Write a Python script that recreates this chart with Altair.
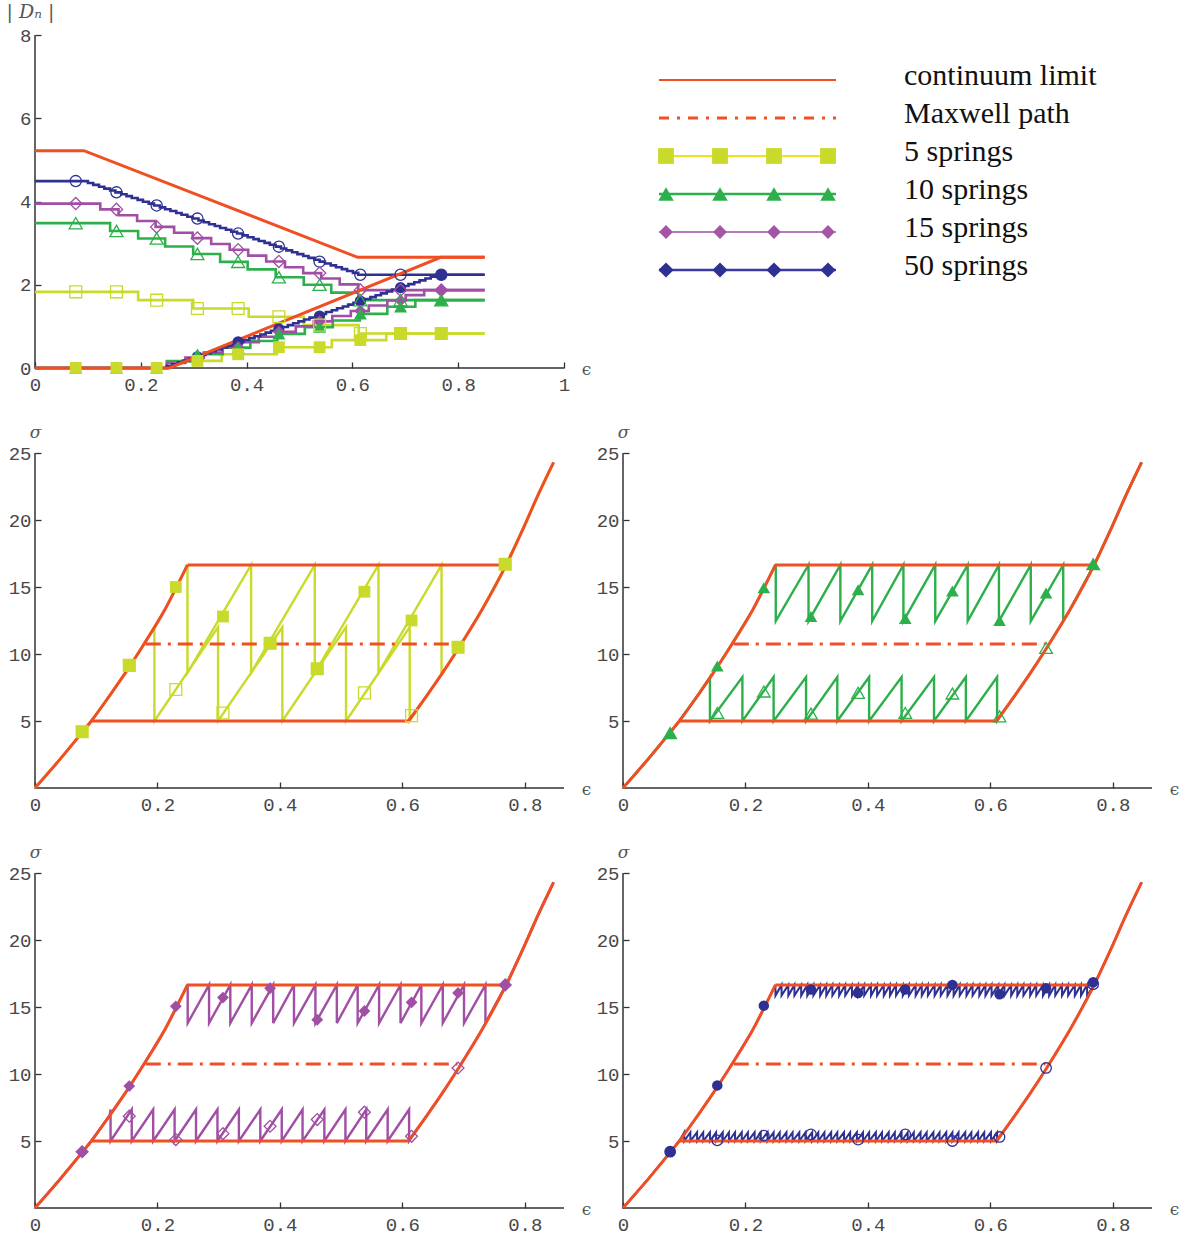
import altair as alt
import pandas as pd

# ---------------- values ----------------
# continuum limit, stress-strain (sigma vs epsilon)
branch1_eps = [0.0, 0.04, 0.077, 0.092, 0.122, 0.147, 0.174, 0.212, 0.249]
branch1_sig = [0.0, 2.1, 4.15, 5.0, 6.9, 8.55, 10.45, 13.3, 16.65]
branch2_eps = [0.6098, 0.64, 0.665, 0.692, 0.73, 0.7696, 0.7957, 0.823, 0.847]
branch2_sig = [5.0, 6.9, 8.55, 10.45, 13.3, 16.65, 19.2, 22.0, 24.3]
plateau_hi_eps = [0.249, 0.7696]
plateau_lo_eps = [0.092, 0.6098]
sig_high = 16.65
sig_low = 5.0
maxwell_eps = [0.181, 0.69]
maxwell_sig = [10.75, 10.75]

# continuum limit of |D_N|
dn_cont_upper_eps = [0.0, 0.0925, 0.61, 0.85]
dn_cont_upper_val = [5.22, 5.22, 2.66, 2.66]
dn_cont_lower_eps = [0.0, 0.254, 0.767, 0.85]
dn_cont_lower_val = [0.0, 0.0, 2.66, 2.66]
dn_end_eps = 0.85

marker_eps = [0.077, 0.154, 0.230, 0.307, 0.384, 0.461, 0.538, 0.615, 0.691, 0.768]

# 5 springs
jumps_unload_5 = [0.195, 0.299, 0.404, 0.508, 0.612]
jumps_load_5 = [0.249, 0.353, 0.457, 0.561, 0.664]
tooth_unload_5 = 12.0
tooth_load_5 = 8.6
sig_load_5 = [4.2, 9.15, 15.0, 12.8, 10.8, 8.9, 14.65, 12.5, 10.5, 16.7]
sig_unload_5 = [4.2, 9.15, 7.35, 5.6, 10.8, 8.9, 7.1, 5.4, 10.5, 16.7]
dn_unload_5 = [1.83, 1.63, 1.43, 1.23, 1.03, 0.83]
dn_load_5 = [0.0, 0.17, 0.33, 0.50, 0.67, 0.83]
dnm_load_5 = [0, 0, 0, 0.17, 0.33, 0.5, 0.5, 0.67, 0.83, 0.83]
dnm_unload_5 = [1.83, 1.83, 1.63, 1.43, 1.43, 1.23, 1.03, 0.83, 0.83, 0.83]

# 10 springs
jumps_unload_10 = [0.142, 0.195, 0.246, 0.299, 0.350, 0.402, 0.455, 0.508, 0.560, 0.611]
jumps_load_10 = [0.2495, 0.303, 0.355, 0.407, 0.458, 0.510, 0.563, 0.614, 0.666, 0.719]
tooth_unload_10 = 8.28
tooth_load_10 = 12.45
sig_load_10 = [4.1, 9.1, 14.95, 12.8, 14.8, 12.65, 14.7, 12.5, 14.55, 16.7]
sig_unload_10 = [4.1, 5.6, 7.2, 5.55, 7.1, 5.6, 7.05, 5.35, 10.45, 16.7]
dn_unload_10 = [3.48, 3.29, 3.11, 2.92, 2.74, 2.55, 2.37, 2.18, 2.00, 1.81, 1.63]
dn_load_10 = [0.0, 0.16, 0.33, 0.49, 0.65, 0.82, 0.98, 1.14, 1.30, 1.47, 1.63]
dnm_load_10 = [0, 0, 0, 0.33, 0.49, 0.82, 0.98, 1.30, 1.47, 1.63]
dnm_unload_10 = [3.48, 3.29, 3.11, 2.74, 2.55, 2.18, 2.00, 1.63, 1.63, 1.63]

# 15 springs
jumps_unload_15 = [0.1234, 0.158, 0.193, 0.228, 0.263, 0.298, 0.333, 0.368, 0.403,
                   0.437, 0.4726, 0.507, 0.541, 0.576, 0.611]
jumps_load_15 = [0.2494, 0.2843, 0.319, 0.354, 0.389, 0.423, 0.458, 0.493, 0.527,
                 0.562, 0.597, 0.631, 0.666, 0.7007, 0.7357]
tooth_unload_15 = 7.35
tooth_load_15 = 13.8
sig_load_15 = [4.2, 9.1, 15.05, 15.7, 16.4, 14.05, 14.7, 15.35, 16.05, 16.65]
sig_unload_15 = [4.2, 6.85, 5.1, 5.55, 6.1, 6.6, 7.15, 5.35, 10.45, 16.65]
dn_unload_15 = [3.95, 3.81, 3.67, 3.53, 3.39, 3.25, 3.12, 2.98, 2.84, 2.70, 2.56, 2.42,
                2.28, 2.15, 2.01, 1.87]
dn_load_15 = [0.0, 0.12, 0.25, 0.37, 0.50, 0.62, 0.75, 0.87, 1.00, 1.12, 1.25, 1.37,
              1.50, 1.62, 1.75, 1.87]
dnm_load_15 = [0, 0, 0, 0.25, 0.5, 0.87, 1.12, 1.37, 1.62, 1.87]
dnm_unload_15 = [3.95, 3.81, 3.39, 3.12, 2.84, 2.56, 2.28, 1.87, 1.87, 1.87]

# 50 springs
jumps_unload_50 = [0.100, 0.110, 0.121, 0.131, 0.142, 0.152, 0.163, 0.173, 0.183, 0.194,
                   0.204, 0.215, 0.225, 0.236, 0.246, 0.256, 0.267, 0.277, 0.288, 0.298,
                   0.309, 0.319, 0.329, 0.340, 0.350, 0.361, 0.371, 0.382, 0.392, 0.402,
                   0.413, 0.423, 0.434, 0.444, 0.455, 0.465, 0.475, 0.486, 0.496, 0.507,
                   0.517, 0.528, 0.538, 0.548, 0.559, 0.569, 0.580, 0.590, 0.601, 0.611]
jumps_load_50 = [0.249, 0.259, 0.270, 0.280, 0.291, 0.301, 0.311, 0.322, 0.332, 0.342,
                 0.353, 0.363, 0.374, 0.384, 0.394, 0.405, 0.415, 0.426, 0.436, 0.446,
                 0.457, 0.467, 0.478, 0.488, 0.498, 0.509, 0.519, 0.530, 0.540, 0.550,
                 0.561, 0.571, 0.582, 0.592, 0.602, 0.613, 0.623, 0.634, 0.644, 0.654,
                 0.665, 0.675, 0.686, 0.696, 0.706, 0.717, 0.727, 0.738, 0.748, 0.758]
tooth_unload_50 = 5.65
tooth_load_50 = 15.85
sig_load_50 = [4.2, 9.15, 15.1, 16.3, 16.05, 16.3, 16.65, 15.95, 16.4, 16.85]
sig_unload_50 = [4.2, 5.05, 5.4, 5.5, 5.1, 5.5, 5.0, 5.3, 10.45, 16.7]
dn_unload_50 = [4.49, 4.445, 4.40, 4.355, 4.31, 4.265, 4.22, 4.175, 4.13, 4.085, 4.04,
                3.995, 3.95, 3.905, 3.86, 3.815, 3.77, 3.725, 3.68, 3.635, 3.59, 3.545,
                3.50, 3.455, 3.41, 3.365, 3.32, 3.275, 3.23, 3.185, 3.14, 3.095, 3.05,
                3.005, 2.96, 2.915, 2.87, 2.825, 2.78, 2.735, 2.69, 2.645, 2.60, 2.555,
                2.51, 2.465, 2.42, 2.375, 2.33, 2.285, 2.24]
dn_load_50 = [0.0, 0.045, 0.09, 0.134, 0.179, 0.224, 0.269, 0.314, 0.358, 0.403, 0.448,
              0.493, 0.538, 0.582, 0.627, 0.672, 0.717, 0.762, 0.806, 0.851, 0.896,
              0.941, 0.986, 1.030, 1.075, 1.12, 1.165, 1.21, 1.254, 1.299, 1.344,
              1.389, 1.434, 1.478, 1.523, 1.568, 1.613, 1.658, 1.702, 1.747, 1.792,
              1.837, 1.882, 1.926, 1.971, 2.016, 2.061, 2.106, 2.150, 2.195, 2.24]
dnm_load_50 = [0, 0, 0, 0.27, 0.63, 0.94, 1.25, 1.61, 1.93, 2.24]
dnm_unload_50 = [4.49, 4.22, 3.905, 3.59, 3.23, 2.915, 2.555, 2.24, 2.24, 2.24]

# legend
legend_labels = ["continuum limit", "Maxwell path", "5 springs", "10 springs",
                 "15 springs", "50 springs"]
legend_rows = [0, 1, 2, 3, 4, 5]
legend_line_x = [36, 213]
legend_marker_x = [43, 97, 151, 205]
legend_text_x = 281

# ---------------- styling ----------------
RED = "#F04E23"
YEL = "#C9DA2A"
GRN = "#2DB04B"
PUR = "#A04FA5"
BLU = "#2E3192"
AX = "#333333"
LBL = "#484848"
MONO = "Liberation Mono"

W_TOP, H_TOP = 529, 333
W_S, H_S = 529, 335
W_LEG = 526


def frame(w, h):
    return alt.ViewBackground(stroke=AX, strokeWidth=1.5, strokeDash=[0, w + h, w + h, 0])


def x_axis(values, width):
    return alt.Axis(values=values, format="~g", domain=False, grid=False,
                    ticks=True, tickSize=6, tickWidth=1.3, tickColor=AX, offset=-6,
                    labelFont=MONO, labelFontSize=19, labelColor=LBL, labelPadding=7,
                    labelFlush=False, labelOverlap=False,
                    title="ϵ", titleFont="DejaVu Serif", titleFontSize=17,
                    titleFontWeight="normal", titleColor="#555555", titleAngle=0,
                    titleX=width + 22, titleY=7, titleAlign="center",
                    titleBaseline="middle")


def y_axis(values, title, tx, ty, font, size, style):
    return alt.Axis(values=values, format="~g", domain=False, grid=False,
                    ticks=True, tickSize=6, tickWidth=1.3, tickColor=AX, offset=-6,
                    labelFont=MONO, labelFontSize=19, labelColor=LBL, labelPadding=4,
                    labelOverlap=False,
                    title=title, titleFont=font, titleFontSize=size,
                    titleFontStyle=style, titleFontWeight="normal", titleColor="#555555",
                    titleAngle=0, titleX=tx, titleY=ty, titleAlign="center",
                    titleBaseline="middle")


def df_of(xs, ys, **extra):
    d = {"eps": list(xs), "val": list(ys), "i": list(range(len(xs)))}
    for k, v in extra.items():
        d[k] = v
    return pd.DataFrame(d)


# ---------------- top panel: |D_N| ----------------
XT = alt.X("eps:Q", scale=alt.Scale(domain=[0, 1], nice=False, zero=False),
           axis=x_axis([0, 0.2, 0.4, 0.6, 0.8, 1], W_TOP))
YT = alt.Y("val:Q", scale=alt.Scale(domain=[0, 8], nice=False),
           axis=y_axis([0, 2, 4, 6, 8], "| D\u2099 |", -11, -24, "DejaVu Serif", 19,
                       "italic"))


def step_line(jumps, levels, color, width=2.6):
    xs = [0.0] + jumps + [dn_end_eps]
    ys = levels + [levels[-1]]
    return alt.Chart(df_of(xs, ys)).mark_line(
        color=color, strokeWidth=width, interpolate="step-after"
    ).encode(x=XT, y=YT, order="i:Q")


def marks(xs, ys, X, Y, shape, color, size, filled):
    if filled:
        m = alt.Chart(df_of(xs, ys)).mark_point(shape=shape, filled=True, size=size,
                                               color=color, opacity=1, strokeWidth=0)
    else:
        m = alt.Chart(df_of(xs, ys)).mark_point(shape=shape, filled=False, size=size,
                                               color=color, opacity=1, strokeWidth=1.3)
    return m.encode(x=X, y=Y)


series = [
    (5, YEL, "square", jumps_unload_5, jumps_load_5, dn_unload_5, dn_load_5,
     dnm_unload_5, dnm_load_5, 140),
    (10, GRN, "triangle-up", jumps_unload_10, jumps_load_10, dn_unload_10, dn_load_10,
     dnm_unload_10, dnm_load_10, 170),
    (15, PUR, "diamond", jumps_unload_15, jumps_load_15, dn_unload_15, dn_load_15,
     dnm_unload_15, dnm_load_15, 150),
    (50, BLU, "circle", jumps_unload_50, jumps_load_50, dn_unload_50, dn_load_50,
     dnm_unload_50, dnm_load_50, 125),
]

top_layers = []
for (n, col, shp, ju, jl, du, dl, mu, ml, sz) in series:
    top_layers.append(step_line(ju, du, col))
    top_layers.append(step_line(jl, dl, col))
top_layers.append(alt.Chart(df_of(dn_cont_upper_eps, dn_cont_upper_val)).mark_line(
    color=RED, strokeWidth=3).encode(x=XT, y=YT, order="i:Q"))
top_layers.append(alt.Chart(df_of(dn_cont_lower_eps, dn_cont_lower_val)).mark_line(
    color=RED, strokeWidth=3).encode(x=XT, y=YT, order="i:Q"))
for (n, col, shp, ju, jl, du, dl, mu, ml, sz) in reversed(series):
    top_layers.append(marks(marker_eps, mu, XT, YT, shp, col, sz, False))
    top_layers.append(marks(marker_eps, ml, XT, YT, shp, col, sz, True))

top_panel = alt.layer(*top_layers).properties(width=W_TOP, height=H_TOP,
                                               view=frame(W_TOP, H_TOP))

# ---------------- legend panel ----------------
XL = alt.X("lx:Q", scale=alt.Scale(domain=[0, W_LEG], nice=False, zero=False), axis=None)
YL = alt.Y("row:Q", scale=alt.Scale(domain=[-1.184, 7.579], nice=False, zero=False,
                                     reverse=True), axis=None)


def leg_line(row, color, width, dash=None):
    d = pd.DataFrame({"lx": legend_line_x, "row": [row, row]})
    if dash:
        m = alt.Chart(d).mark_line(color=color, strokeWidth=width, strokeDash=dash)
    else:
        m = alt.Chart(d).mark_line(color=color, strokeWidth=width)
    return m.encode(x=XL, y=YL)


def leg_marks(row, shape, color, size):
    d = pd.DataFrame({"lx": legend_marker_x, "row": [row] * len(legend_marker_x)})
    return alt.Chart(d).mark_point(shape=shape, filled=True, size=size, color=color,
                                   opacity=1, strokeWidth=0).encode(x=XL, y=YL)


leg_text = alt.Chart(pd.DataFrame({"lx": [legend_text_x] * 6, "row": legend_rows,
                                   "label": legend_labels})).mark_text(
    align="left", baseline="middle", dy=-4, font="Liberation Serif", fontSize=30,
    color="#111111").encode(x=XL, y=YL, text="label:N")

legend_panel = alt.layer(
    leg_line(0, RED, 2.2),
    leg_line(1, RED, 3, [10, 8, 3, 8]),
    leg_line(2, "#F2E318", 1.8), leg_marks(2, "square", YEL, 250),
    leg_line(3, GRN, 2.4), leg_marks(3, "triangle-up", GRN, 240),
    leg_line(4, "#B67ABB", 1.8), leg_marks(4, "diamond", "#A555A8", 190),
    leg_line(5, "#3A3AA2", 2.4), leg_marks(5, "diamond", BLU, 230),
    leg_text,
).properties(width=W_LEG, height=H_TOP)

# ---------------- sigma panels ----------------
XS = alt.X("eps:Q", scale=alt.Scale(domain=[0, 0.864], nice=False, zero=False),
           axis=x_axis([0, 0.2, 0.4, 0.6, 0.8], W_S))
YS = alt.Y("val:Q", scale=alt.Scale(domain=[0, 25], nice=False),
           axis=y_axis([5, 10, 15, 20, 25], "σ", -6, -21, "DejaVu Serif", 17, "italic"))


def loading_path(jumps, bottom):
    xs, ys = [], []
    for e, s in zip(branch1_eps, branch1_sig):
        if e < jumps[0]:
            xs.append(e)
            ys.append(s)
    for j in jumps:
        xs += [j, j]
        ys += [sig_high, bottom]
    for e, s in zip(branch2_eps, branch2_sig):
        if e > jumps[-1]:
            xs.append(e)
            ys.append(s)
    return xs, ys


def unloading_path(jumps, top):
    xs, ys = [], []
    for e, s in zip(branch1_eps, branch1_sig):
        if e < jumps[0]:
            xs.append(e)
            ys.append(s)
    for j in jumps:
        xs += [j, j]
        ys += [top, sig_low]
    for e, s in zip(branch2_eps, branch2_sig):
        if e > jumps[-1]:
            xs.append(e)
            ys.append(s)
    return xs, ys


red_branches = pd.concat([df_of(branch1_eps, branch1_sig, seg="b1"),
                          df_of(branch2_eps, branch2_sig, seg="b2")])
red_plateaus = pd.concat([df_of(plateau_hi_eps, [sig_high, sig_high], seg="hi"),
                          df_of(plateau_lo_eps, [sig_low, sig_low], seg="lo")])


def sigma_panel(color, shape, ju, jl, t_un, t_ld, s_ld, s_un, size, lw):
    lx, ly = loading_path(jl, t_ld)
    ux, uy = unloading_path(ju, t_un)
    paths = pd.concat([df_of(lx, ly, path="load"), df_of(ux, uy, path="unload")])
    lines = alt.Chart(paths).mark_line(color=color, strokeWidth=lw).encode(
        x=XS, y=YS, detail="path:N", order="i:Q")
    rb = alt.Chart(red_branches).mark_line(color=RED, strokeWidth=3,
                                           interpolate="monotone").encode(
        x=XS, y=YS, detail="seg:N", order="i:Q")
    rp = alt.Chart(red_plateaus).mark_line(color=RED, strokeWidth=3).encode(
        x=XS, y=YS, detail="seg:N", order="i:Q")
    mx = alt.Chart(df_of(maxwell_eps, maxwell_sig)).mark_line(
        color=RED, strokeWidth=3, strokeDash=[15, 7, 3, 7]).encode(x=XS, y=YS)
    mo = marks(marker_eps, s_un, XS, YS, shape, color, size, False)
    mf = marks(marker_eps, s_ld, XS, YS, shape, color, size, True)
    return alt.layer(lines, rb, rp, mx, mo, mf).properties(
        width=W_S, height=H_S, view=frame(W_S, H_S))


p5 = sigma_panel(YEL, "square", jumps_unload_5, jumps_load_5, tooth_unload_5,
                 tooth_load_5, sig_load_5, sig_unload_5, 140, 2.4)
p10 = sigma_panel(GRN, "triangle-up", jumps_unload_10, jumps_load_10, tooth_unload_10,
                  tooth_load_10, sig_load_10, sig_unload_10, 160, 2.4)
p15 = sigma_panel(PUR, "diamond", jumps_unload_15, jumps_load_15, tooth_unload_15,
                  tooth_load_15, sig_load_15, sig_unload_15, 140, 2.4)
p50 = sigma_panel(BLU, "circle", jumps_unload_50, jumps_load_50, tooth_unload_50,
                  tooth_load_50, sig_load_50, sig_unload_50, 110, 2.0)

chart = alt.concat(
    top_panel, legend_panel, p5, p10, p15, p50,
    columns=2, spacing={"row": 85, "column": 59}, bounds="flush",
).properties(
    padding={"left": 5, "top": 1, "right": 5, "bottom": 5}
).configure_view(stroke="transparent")

chart.save("out.html", embed_options={"renderer": "svg", "actions": False})
